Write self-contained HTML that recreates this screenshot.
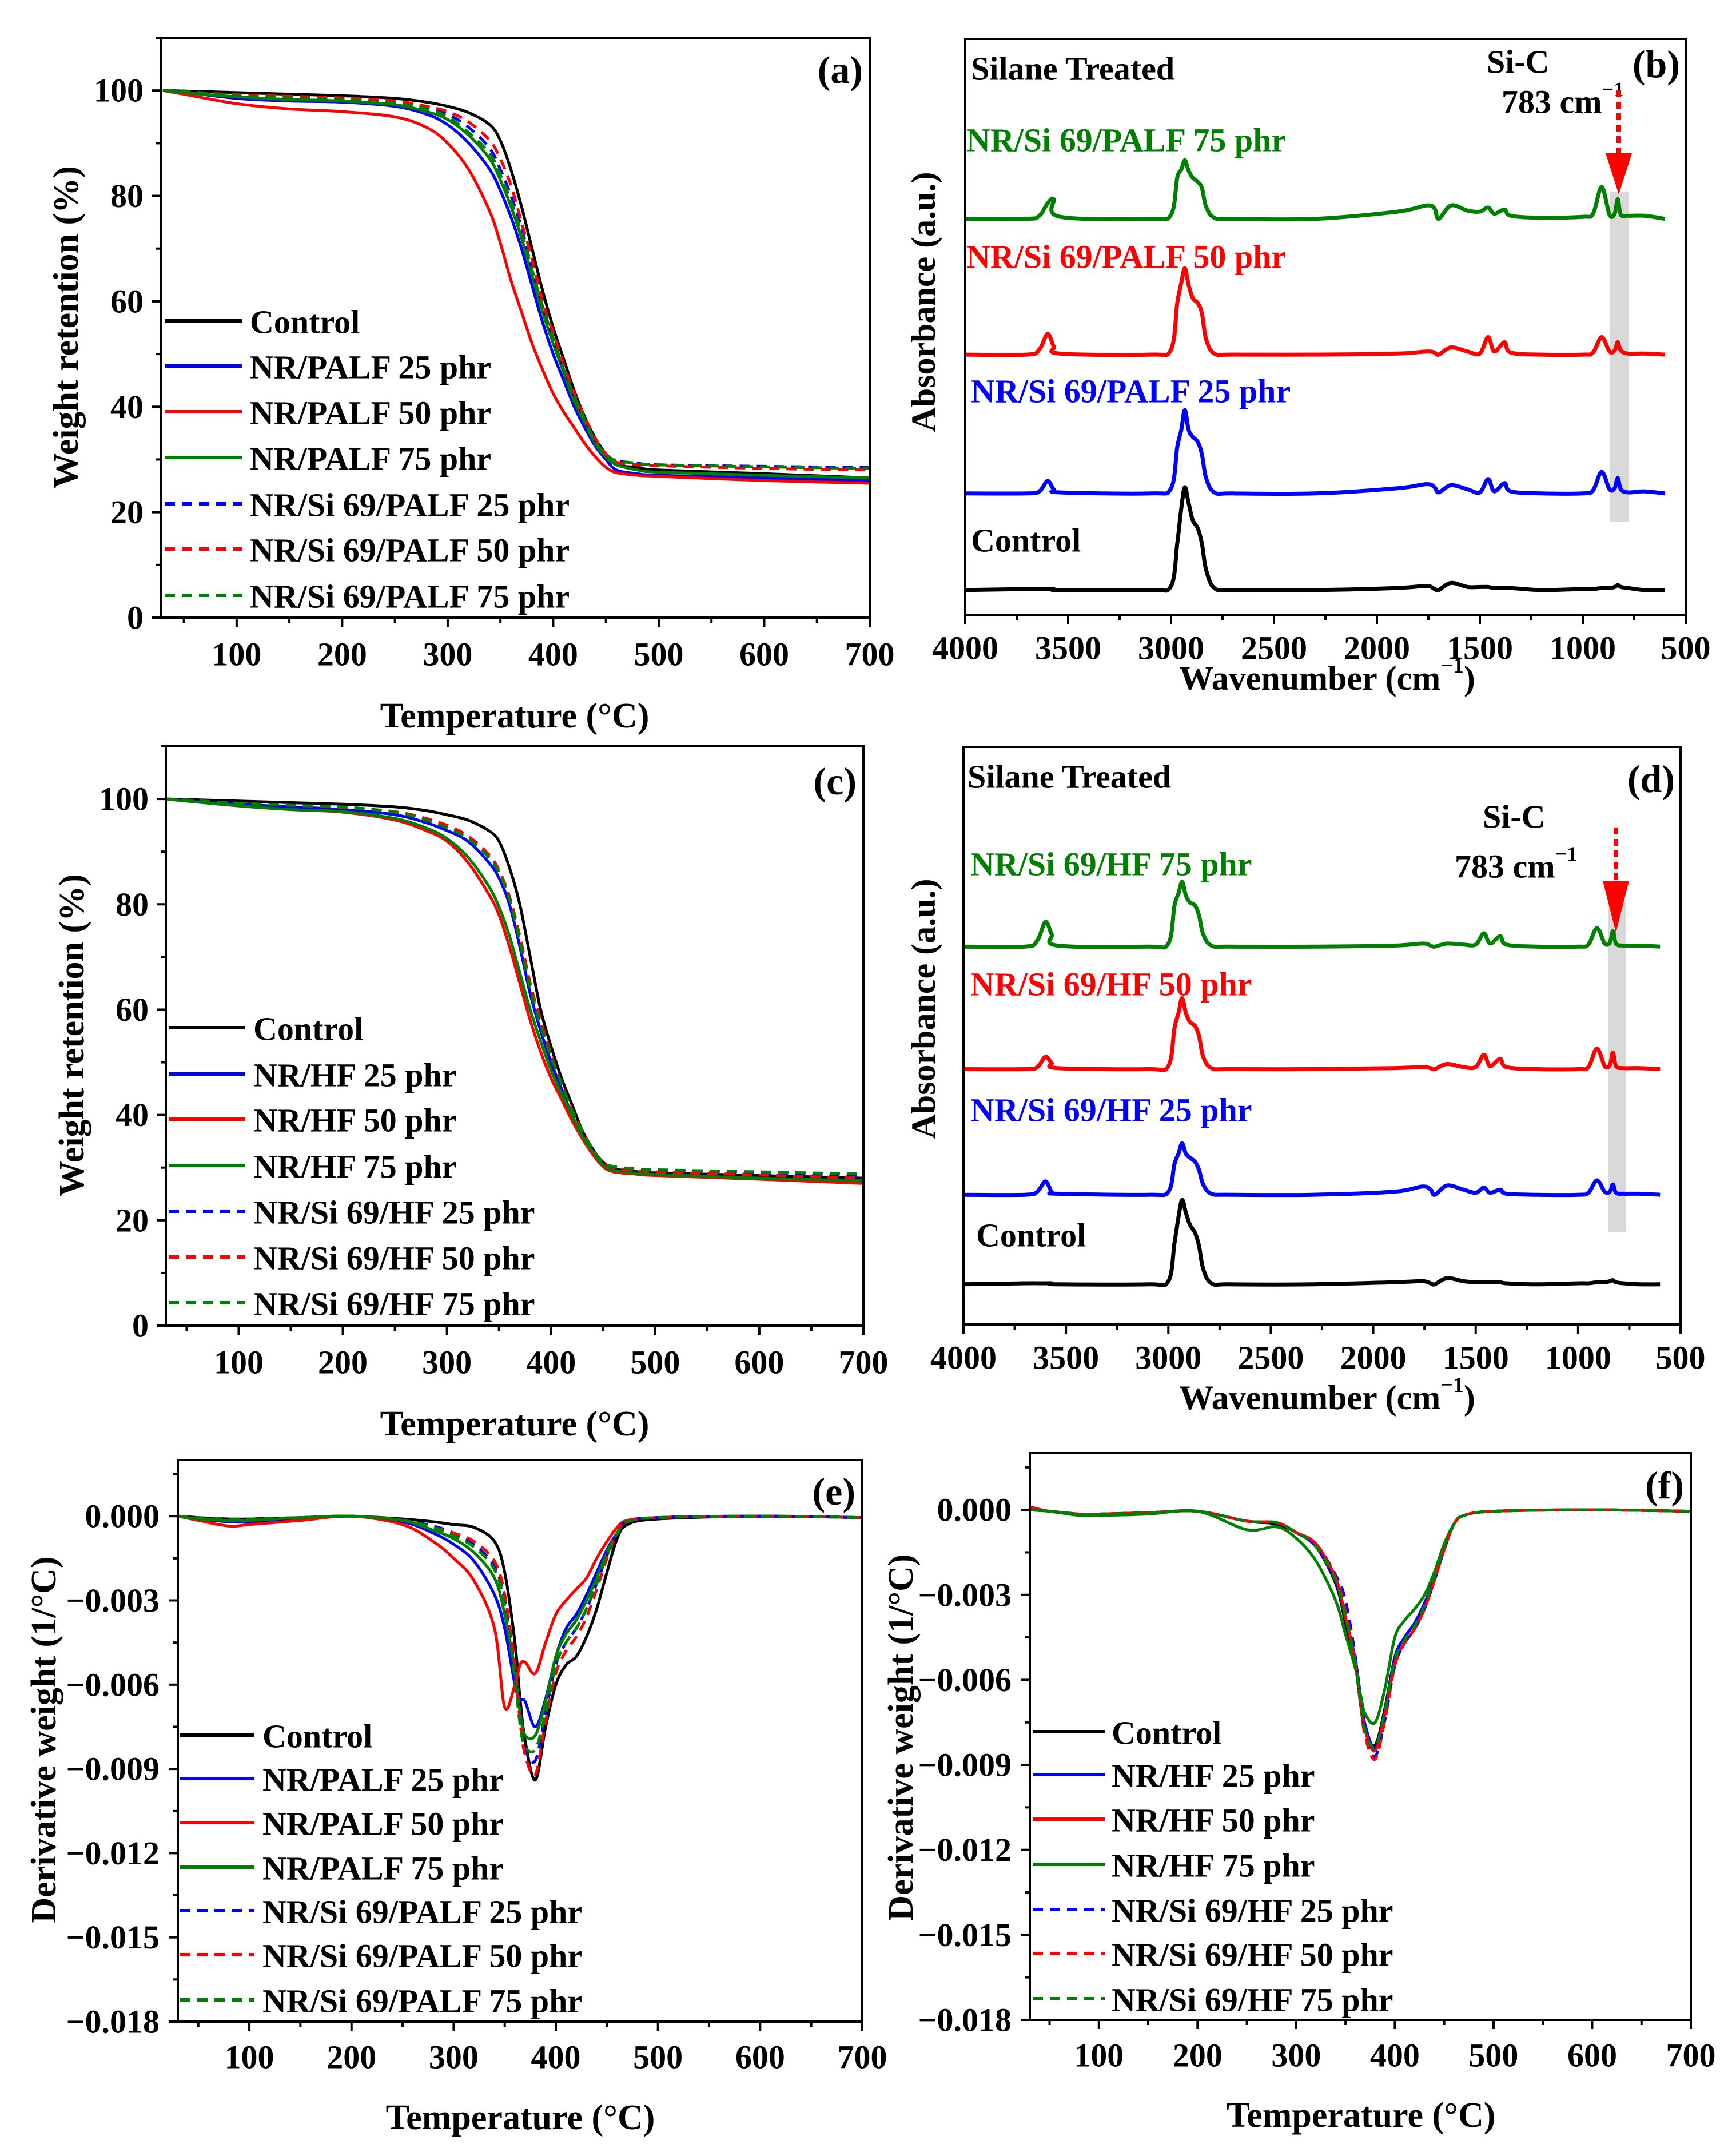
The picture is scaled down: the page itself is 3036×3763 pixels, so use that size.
<!DOCTYPE html>
<html><head><meta charset="utf-8"><title>TGA / FTIR / DTG figure</title>
<style>
html,body{margin:0;padding:0;background:#fff;}
svg{display:block;font-family:"Liberation Serif",serif;font-weight:bold;}
</style></head>
<body>
<svg id="fig" xmlns="http://www.w3.org/2000/svg" width="3036" height="3763" viewBox="0 0 3036 3763">
<rect x="0" y="0" width="3036" height="3763" fill="#fff"/>
</svg>
<script>
// ---------- DATA ----------
const tgaTemps = [30,50,100,150,200,250,280,300,320,340,350,360,370,380,390,400,410,420,430,440,450,460,480,500,600,700];
const tgaLabelsA = ["Control","NR/PALF 25 phr","NR/PALF 50 phr","NR/PALF 75 phr","NR/Si 69/PALF 25 phr","NR/Si 69/PALF 50 phr","NR/Si 69/PALF 75 phr"];
const tgaA_control = [100,99.9,99.6,99.3,99,98.5,97.8,97,95.8,93.5,90.5,85,78,70,62,55,49,43,38,34,31,29,28.5,28,27.3,26.5];
const tgaA_p25 = [100,99.7,98.5,98,97.8,97,95.5,93.5,90,85,81,76,70,63,56,50,45,40,36,32.5,30,28,27.3,27,26.5,26];
const tgaA_p50 = [100,99.3,97.5,96.5,96,95,93,90,85,77,71,64,58,52,47,42.5,39,36,33,30.5,28.5,27.5,27,26.8,26,25.5];
const tgaA_p75 = [100,99.6,98.8,98.3,98,97.3,96,94.5,91.5,87,83,78,72,65,58,52,46.5,41,37,33,30.5,29,28,27.6,27,26.5];
const tgaA_s25 = [100,99.8,99.2,98.8,98.5,97.8,96.8,95.5,93,89,85,80,74,66,59,53,47,42,37.5,33.5,31,29.8,29.3,29,28.7,28.5];
const tgaA_s50 = [100,99.8,99.2,98.9,98.6,98,97,96,94,90.5,87,82,75,68,60,54,48,42.5,38,34,31,29.5,29,28.8,28.3,28];
const tgaA_s75 = [100,99.8,99,98.6,98.3,97.5,96.5,95,92,88,84,79,73,66,59,53,47,42,37.5,33.5,31,29.8,29.3,29,28.6,28.3];

const tgaLabelsC = ["Control","NR/HF 25 phr","NR/HF 50 phr","NR/HF 75 phr","NR/Si 69/HF 25 phr","NR/Si 69/HF 50 phr","NR/Si 69/HF 75 phr"];
const tgaC_control = [100,99.9,99.6,99.3,99,98.5,97.8,97,96,94,92,87,80,70,60,53,47,42,37,33.5,31,29.8,29.3,29,28.5,28];
const tgaC_h25 = [100,99.7,99,98.5,98,97,95.5,94,92,88,85,80,72,63,56,50,45,40,36,33,30.5,29.5,29,28.6,28,27.5];
const tgaC_h50 = [100,99.6,98.7,98,97.5,96,94,92,88,82,78,72,65,58,52,47,43,39,35.5,32.5,30.2,29.2,28.8,28.5,27.8,27];
const tgaC_h75 = [100,99.6,98.7,98,97.6,96.3,94.5,92.5,89,83.5,79.5,74,67,60,54,48.5,44,40,36,33,30.5,29.5,29,28.7,28,27.5];
const tgaC_s25 = [100,99.8,99.2,98.8,98.4,97.5,96,94.5,92.5,89,86,81,73,64,57,51,46,41,37,33.5,31,30,29.5,29.3,28.8,28.3];
const tgaC_s50 = [100,99.8,99.2,98.8,98.4,97.6,96.3,95,93,89.5,86.5,81.5,74,65,58,51.5,46,41,37,33.5,31,30,29.5,29.2,28.6,28];
const tgaC_s75 = [100,99.8,99.2,98.8,98.5,97.5,96,94.5,92.5,89,86,81,73,64,57,51,46,41,37,33.5,31,30.2,29.8,29.6,29.2,28.8];

const dtgTemps = [30,50,80,100,150,200,250,280,300,320,340,350,360,365,370,380,390,400,410,420,430,440,450,460,470,500,600,700];
// values in units of 0.001 1/°C
const dtgE_control = [0,-0.05,-0.1,-0.1,-0.05,0,-0.1,-0.2,-0.3,-0.4,-0.9,-2,-4.5,-6.5,-8,-9.4,-7.5,-6,-5.3,-5,-4.3,-3.3,-2,-0.8,-0.3,-0.1,0,-0.05];
const dtgE_p25 = [0,-0.1,-0.2,-0.2,-0.1,0,-0.2,-0.6,-1,-1.6,-2.8,-4,-6,-6.5,-6.6,-7.5,-6.5,-5,-4,-3.5,-2.8,-2,-1.2,-0.6,-0.2,-0.05,0,-0.05];
const dtgE_p50 = [0,-0.15,-0.35,-0.3,-0.15,0,-0.3,-0.9,-1.5,-2.3,-4,-6.8,-6,-5.3,-5.2,-5.6,-4.5,-3.5,-3,-2.6,-2.2,-1.5,-0.9,-0.4,-0.15,-0.05,0,-0.05];
const dtgE_p75 = [0,-0.1,-0.15,-0.15,-0.05,0,-0.15,-0.5,-0.8,-1.3,-2.2,-3.5,-5.5,-7,-7.8,-7.8,-6.6,-5,-4.2,-3.7,-3,-2.2,-1.3,-0.6,-0.2,-0.05,0,-0.05];
const dtgE_s25 = [0,-0.05,-0.1,-0.1,-0.05,0,-0.15,-0.35,-0.6,-1,-1.8,-3,-5.5,-7.2,-8.3,-8.7,-7,-5.3,-4.5,-4,-3.3,-2.4,-1.4,-0.6,-0.2,-0.05,0,-0.05];
const dtgE_s50 = [0,-0.05,-0.1,-0.1,-0.05,0,-0.15,-0.4,-0.6,-0.9,-1.6,-2.8,-5.3,-7.3,-8.5,-9.2,-7.3,-5.6,-4.8,-4.3,-3.6,-2.6,-1.5,-0.6,-0.2,-0.05,0,-0.05];
const dtgE_s75 = [0,-0.05,-0.1,-0.1,-0.05,0,-0.15,-0.4,-0.7,-1.1,-1.9,-3.2,-5.8,-7.4,-8.2,-8.3,-7,-5.3,-4.5,-4,-3.3,-2.4,-1.4,-0.6,-0.2,-0.05,0,-0.05];

const dtgF_control = [0,-0.05,-0.15,-0.15,-0.1,-0.05,-0.4,-0.5,-0.8,-1.3,-2.6,-4,-5.5,-6.8,-7.8,-8.3,-7,-5.2,-4.5,-4,-3.3,-2.4,-1.3,-0.5,-0.2,-0.05,0,-0.05];
const dtgF_h25 = [0.1,-0.05,-0.15,-0.15,-0.1,-0.05,-0.4,-0.45,-0.8,-1.3,-2.5,-3.8,-5.3,-6.5,-7.6,-8.4,-7.1,-5.2,-4.5,-4,-3.3,-2.4,-1.3,-0.5,-0.2,-0.05,0,-0.05];
const dtgF_h50 = [0.1,-0.05,-0.15,-0.15,-0.1,-0.05,-0.4,-0.45,-0.8,-1.2,-2.4,-3.8,-5.4,-6.7,-7.8,-8.5,-7.2,-5.4,-4.7,-4.2,-3.5,-2.5,-1.4,-0.5,-0.2,-0.05,0,-0.05];
const dtgF_h75 = [0,-0.05,-0.2,-0.2,-0.15,-0.05,-0.7,-0.6,-1,-1.8,-3.2,-4.4,-5.6,-6.5,-7.2,-7.5,-6.3,-4.5,-3.9,-3.5,-3,-2.2,-1.2,-0.5,-0.2,-0.05,0,-0.05];
const dtgF_s25 = [0,-0.05,-0.15,-0.15,-0.1,-0.05,-0.4,-0.45,-0.8,-1.2,-2.3,-3.2,-5.2,-6.7,-7.9,-8.7,-7.4,-5.5,-4.7,-4.2,-3.5,-2.5,-1.4,-0.5,-0.2,-0.05,0,-0.05];
const dtgF_s50 = [0,-0.05,-0.15,-0.15,-0.1,-0.05,-0.4,-0.45,-0.8,-1.2,-2.4,-3.6,-5.4,-6.8,-8,-8.8,-7.4,-5.5,-4.7,-4.2,-3.5,-2.5,-1.4,-0.5,-0.2,-0.05,0,-0.05];
const dtgF_s75 = [0,-0.05,-0.15,-0.15,-0.1,-0.05,-0.4,-0.45,-0.8,-1.3,-2.5,-3.8,-5.4,-6.7,-7.8,-8.4,-7.1,-5.3,-4.6,-4.1,-3.4,-2.4,-1.3,-0.5,-0.2,-0.05,0,-0.05];

const tgaYTicks = [0,20,40,60,80,100];
const tempTicks = [100,200,300,400,500,600,700];
const dtgYTicks = [0,-3,-6,-9,-12,-15,-18];
const dtgYTickLabels = ["0.000","\u22120.003","\u22120.006","\u22120.009","\u22120.012","\u22120.015","\u22120.018"];
const wnTicks = [4000,3500,3000,2500,2000,1500,1000,500];

const wn = [4000,3700,3640,3600,3570,3540,3100,3000,2970,2950,2933,2915,2895,2870,2850,2830,2790,2700,2300,1900,1760,1720,1700,1640,1560,1500,1460,1430,1380,1350,1200,1000,950,908,870,845,830,815,780,700,600];
const ftB_control = [0,0.01,0.01,0.01,0.01,0,0,0.04,0.45,0.8,1.0,0.85,0.68,0.6,0.45,0.2,0.02,0,0,0.02,0.04,0.01,0,0.07,0.03,0.03,0.03,0.02,0.02,0.02,0,0.01,0.01,0.02,0.02,0.03,0.05,0.03,0.02,0,0];
const ftB_s25 = [0,0,0.02,0.12,0.04,0.01,0,0.05,0.45,0.62,0.81,0.62,0.55,0.5,0.38,0.15,0.01,0,0,0.05,0.09,0.06,0.01,0.08,0.04,0.01,0.14,0.02,0.1,0.02,0,0,0.03,0.21,0.04,0.05,0.15,0.04,0.01,0.02,0];
const ftB_s50 = [0,0,0.05,0.2,0.08,0.01,0,0.05,0.5,0.7,0.84,0.68,0.55,0.5,0.4,0.15,0.01,0,0,0.01,0.03,0.02,0,0.07,0.03,0.01,0.17,0.03,0.12,0.02,0,0,0.02,0.17,0.03,0.04,0.12,0.04,0.01,0.01,0];
const ftB_s75 = [0,0,0.03,0.15,0.19,0.02,0,0.04,0.4,0.48,0.57,0.47,0.4,0.36,0.3,0.12,0.01,0,0,0.07,0.13,0.1,0,0.13,0.08,0.07,0.11,0.05,0.09,0.03,0.01,0.02,0.05,0.31,0.04,0.05,0.19,0.04,0.03,0.03,0];
const ftB_offsets = [0.24,1.18,2.53,3.85];

const ftD_control = [0,0.01,0.01,0.01,0.01,0,0,0.03,0.4,0.66,0.82,0.7,0.58,0.5,0.37,0.15,0.01,0,0,0.02,0.03,0.01,0,0.06,0.03,0.02,0.02,0.02,0.02,0.01,0,0.01,0.01,0.02,0.02,0.03,0.04,0.02,0.01,0,0];
const ftD_s25 = [0,0,0.03,0.13,0.03,0.01,0,0.03,0.3,0.4,0.5,0.4,0.36,0.32,0.24,0.1,0.01,0,0,0.03,0.08,0.05,0,0.09,0.05,0.02,0.07,0.02,0.05,0.01,0,0,0.02,0.14,0.03,0.03,0.1,0.02,0.01,0.01,0];
const ftD_s50 = [0,0,0.02,0.12,0.06,0.01,0,0.03,0.4,0.55,0.69,0.55,0.46,0.42,0.32,0.12,0.01,0,0,0.01,0.02,0.01,0,0.05,0.02,0.02,0.14,0.03,0.1,0.02,0,0,0.02,0.2,0.03,0.04,0.16,0.03,0.01,0.01,0];
const ftD_s75 = [0,0,0.06,0.24,0.12,0.01,0,0.03,0.4,0.52,0.63,0.5,0.43,0.4,0.3,0.12,0.01,0,0,0.01,0.03,0.01,0,0.03,0.02,0.02,0.13,0.03,0.1,0.02,0,0,0.02,0.18,0.03,0.04,0.15,0.03,0.01,0.01,0];
const ftD_offsets = [0.39,1.26,2.48,3.67];

// ---------- RENDER ----------
const NS = "http://www.w3.org/2000/svg";
const svg = document.getElementById("fig");
const BLACK = "#000", BLUE = "#0000ff", RED = "#ff0000", GREEN = "#008000";
const COLORS = [BLACK, BLUE, RED, GREEN, BLUE, RED, GREEN];

function mk(tag, parent) { const e = document.createElementNS(NS, tag); (parent || svg).appendChild(e); return e; }
function setA(e, o) { for (const k in o) e.setAttribute(k, o[k]); return e; }
function lin(d0, d1, r0, r1) { return v => r0 + (v - d0) * (r1 - r0) / (d1 - d0); }

function smoothPath(pts) {
  let d = "M" + pts[0][0].toFixed(1) + "," + pts[0][1].toFixed(1);
  for (let i = 0; i < pts.length - 1; i++) {
    const p0 = pts[i - 1] || pts[i], p1 = pts[i], p2 = pts[i + 1], p3 = pts[i + 2] || p2;
    const c1x = p1[0] + (p2[0] - p0[0]) / 6, c1y = p1[1] + (p2[1] - p0[1]) / 6;
    const c2x = p2[0] - (p3[0] - p1[0]) / 6, c2y = p2[1] - (p3[1] - p1[1]) / 6;
    d += "C" + c1x.toFixed(1) + "," + c1y.toFixed(1) + " " + c2x.toFixed(1) + "," + c2y.toFixed(1) + " " + p2[0].toFixed(1) + "," + p2[1].toFixed(1);
  }
  return d;
}
function linePath(pts) { return pts.map((p, i) => (i ? "L" : "M") + p[0].toFixed(1) + "," + p[1].toFixed(1)).join(""); }

function txt(g, x, y, s, size, anchor, fill) {
  const t = mk("text", g);
  setA(t, { x: x, y: y, "font-size": size, "text-anchor": anchor || "start", "dominant-baseline": "central", fill: fill || BLACK });
  t.textContent = s;
  return t;
}

function frame(g, x0, x1, y0, y1) {
  const r = mk("rect", g);
  setA(r, { x: x0, y: y0, width: x1 - x0, height: y1 - y0, fill: "none", stroke: BLACK, "stroke-width": 4 });
  
  
}

function xTicks(g, sx, ticks, minorStep, dmin, dmax, yb, labelY, size) {
  const lo = Math.min(dmin, dmax), hi = Math.max(dmin, dmax);
  const start = Math.ceil(lo / minorStep) * minorStep;
  for (let v = start; v <= hi + 1e-9; v += minorStep) {
    const major = ticks.indexOf(Math.round(v)) >= 0;
    const l = mk("line", g);
    setA(l, { x1: sx(v), x2: sx(v), y1: yb, y2: yb + (major ? 16 : 9), stroke: BLACK, "stroke-width": 4 });
    
    
  }
  ticks.forEach(v => {
    const t = txt(g, sx(v), labelY, String(v), size, "middle");
    
    
  });
}

function yTicks(g, sy, ticks, labels, minorStep, lo, hi, xl, labelX, size) {
  const start = Math.ceil(lo / minorStep - 1e-9) * minorStep;
  for (let v = start; v <= hi + 1e-9; v += minorStep) {
    const major = ticks.some(t => Math.abs(t - v) < 1e-6);
    const l = mk("line", g);
    setA(l, { x1: xl, x2: xl - (major ? 16 : 9), y1: sy(v), y2: sy(v), stroke: BLACK, "stroke-width": 4 });
    
    
  }
  ticks.forEach((v, i) => {
    const t = txt(g, labelX, sy(v), labels[i], size, "end");
    
    
  });
}

function series(g, sx, sy, xs, ys, color, dashed, smooth, width) {
  const pts = xs.map((x, i) => [sx(x), sy(ys[i])]);
  const p = mk("path", g);
  setA(p, { d: smooth ? smoothPath(pts) : linePath(pts), fill: "none", stroke: color, "stroke-width": width || 5, "stroke-linejoin": "round" });
  if (dashed) p.setAttribute("stroke-dasharray", "18 12");
  return p;
}

function legend(g, labels, x0, x1, tx, ys, size) {
  labels.forEach((lab, i) => {
    const l = mk("line", g);
    setA(l, { x1: x0, x2: x1, y1: ys[i], y2: ys[i], stroke: COLORS[i], "stroke-width": 6 });
    if (i >= 4) l.setAttribute("stroke-dasharray", "18 12");
    
    
    const t = txt(g, tx, ys[i] + 2, lab, size, "start");
    
    
  });
}

function rotTitle(g, x, y, s, size) {
  const t = mk("text", g);
  setA(t, { x: 0, y: 0, "font-size": size, "text-anchor": "middle", "dominant-baseline": "central", transform: "translate(" + x + "," + y + ") rotate(-90)" });
  t.textContent = s;
  return t;
}

function tgaPanel(name, geo, data, labels, legY, legX, panelLabel) {
  const g = mk("g");  
  const sx = lin(geo.xmin, 700, geo.x0, geo.x1), sy = lin(0, 110, geo.y1, geo.y0);
  data.forEach((d, i) => {
    const p = series(g, sx, sy, tgaTemps, d, COLORS[i], i >= 4, true, 5);
    
    
  });
  frame(g, geo.x0, geo.x1, geo.y0, geo.y1);
  xTicks(g, sx, tempTicks, 50, geo.xmin, 700, geo.y1, geo.y1 + 64, 58);
  yTicks(g, sy, tgaYTicks, tgaYTicks.map(String), 10, 0, 110, geo.x0, geo.x0 - 30, 58);
  legend(g, labels, legX[0], legX[1], legX[2], legY, 58);
  const yt = rotTitle(g, geo.ytx, geo.yty, "Weight retention (%)", 62);
   
  const xt = txt(g, geo.xtx, geo.xty, "Temperature (\u00B0C)", 62, "middle");
   
  const pl = txt(g, geo.x1 - 12, geo.ply, panelLabel, 68, "end");
   
}

function dtgPanel(name, geo, data, labels, legY, legX, panelLabel) {
  const g = mk("g");  
  const sx = lin(geo.xmin, 700, geo.x0, geo.x1), sy = lin(-18, 2, geo.y1, geo.y0);
  data.forEach((d, i) => {
    const p = series(g, sx, sy, dtgTemps, d, COLORS[i], i >= 4, true, 5);
    
    
  });
  frame(g, geo.x0, geo.x1, geo.y0, geo.y1);
  xTicks(g, sx, tempTicks, 50, geo.xmin, 700, geo.y1, geo.y1 + 62, 58);
  yTicks(g, sy, dtgYTicks, dtgYTickLabels, 1.5, -18, 2, geo.x0, geo.x0 - 32, 58);
  legend(g, labels, legX[0], legX[1], legX[2], legY, 58);
  const yt = rotTitle(g, geo.ytx, geo.yty, "Derivative weight (1/\u00B0C)", 62);
   
  const xt = txt(g, geo.xtx, geo.xty, "Temperature (\u00B0C)", 62, "middle");
   
  const pl = txt(g, geo.x1 - 12, geo.ply, panelLabel, 68, "end");
   
}

function ftirPanel(name, geo, data, offsets, names, labelPos, panelLabel) {
  const g = mk("g");  
  const sx = lin(4000, 500, geo.x0, geo.x1), sy = lin(0, geo.ymax, geo.y1, geo.y0);
  const band = mk("rect", g);
  setA(band, { x: geo.bandX0, y: geo.bandY0, width: geo.bandX1 - geo.bandX0, height: geo.bandY1 - geo.bandY0, fill: "#d9d9d9" });
  
  
  const cols = [BLACK, BLUE, RED, GREEN];
  data.forEach((d, i) => {
    const shifted = d.map(v => v + offsets[i]);
    const p = series(g, sx, sy, wn, shifted, cols[i], false, true, 7);
    
    
    const t = txt(g, labelPos[i][0], labelPos[i][1], names[i], 58, "start", cols[i]);
    
    
  });
  frame(g, geo.x0, geo.x1, geo.y0, geo.y1);
  xTicks(g, sx, wnTicks, 250, 4000, 500, geo.y1, geo.y1 + 58, 58);
  const yt = rotTitle(g, geo.ytx, geo.yty, "Absorbance (a.u.)", 60);
   
  const xt = mk("text", g);
  setA(xt, { x: geo.xtx, y: geo.xty, "font-size": 60, "text-anchor": "middle", "dominant-baseline": "central" });
  xt.innerHTML = 'Wavenumber (cm<tspan font-size="38" dy="-22">\u22121</tspan><tspan dy="22">)</tspan>';
   
  const st = txt(g, geo.stx, geo.sty, "Silane Treated", 58, "start");
   
  const sic = txt(g, geo.sicx, geo.sicy, "Si-C", 58, "start");
   
  const wv = mk("text", g);
  setA(wv, { x: geo.wvx, y: geo.wvy, "font-size": 58, "dominant-baseline": "central" });
  wv.innerHTML = '783 cm<tspan font-size="36" dy="-22">\u22121</tspan>';
   
  const al = mk("line", g);
  setA(al, { x1: geo.ax, x2: geo.ax, y1: geo.ay0, y2: geo.ahy, stroke: RED, "stroke-width": 8, "stroke-dasharray": "12 8" });
   
  const ah = mk("polygon", g);
  setA(ah, { points: (geo.ax - 23) + "," + geo.ahy + " " + (geo.ax + 23) + "," + geo.ahy + " " + geo.ax + "," + geo.ay1, fill: RED });
   
  const pl = txt(g, geo.x1 - 10, geo.ply, panelLabel, 68, "end");
   
}

tgaPanel("panel-a-tga-palf",
  { x0: 281, x1: 1521, y0: 66, y1: 1080, xmin: 28, ytx: 116, yty: 572, xtx: 900, xty: 1252, ply: 122 },
  [tgaA_control, tgaA_p25, tgaA_p50, tgaA_p75, tgaA_s25, tgaA_s50, tgaA_s75], tgaLabelsA,
  [561, 640, 720, 800, 881, 960, 1041], [288, 423, 437], "(a)");

tgaPanel("panel-c-tga-hf",
  { x0: 290, x1: 1510, y0: 1305, y1: 2318, xmin: 30, ytx: 126, yty: 1810, xtx: 900, xty: 2490, ply: 1366 },
  [tgaC_control, tgaC_h25, tgaC_h50, tgaC_h75, tgaC_s25, tgaC_s50, tgaC_s75], tgaLabelsC,
  [1797, 1878, 1957, 2038, 2118, 2198, 2278], [295, 429, 443], "(c)");

dtgPanel("panel-e-dtg-palf",
  { x0: 311, x1: 1508, y0: 2553, y1: 3535, xmin: 30, ytx: 77, yty: 3042, xtx: 910, xty: 3703, ply: 2608 },
  [dtgE_control, dtgE_p25, dtgE_p50, dtgE_p75, dtgE_s25, dtgE_s50, dtgE_s75], tgaLabelsA,
  [3034, 3110, 3187, 3265, 3341, 3418, 3497], [315, 445, 459], "(e)");

dtgPanel("panel-f-dtg-hf",
  { x0: 1801, x1: 2957, y0: 2541, y1: 3532, xmin: 30, ytx: 1576, yty: 3038, xtx: 2380, xty: 3699, ply: 2597 },
  [dtgF_control, dtgF_h25, dtgF_h50, dtgF_h75, dtgF_s25, dtgF_s50, dtgF_s75], tgaLabelsC,
  [3028, 3103, 3181, 3260, 3339, 3416, 3495], [1806, 1932, 1944], "(f)");

ftirPanel("panel-b-ftir-palf",
  { x0: 1688, x1: 2948, y0: 68, y1: 1075, ymax: 5.6, ytx: 1615, yty: 528, xtx: 2321, xty: 1186,
    bandX0: 2815, bandX1: 2849, bandY0: 336, bandY1: 912,
    stx: 1698, sty: 120, sicx: 2600, sicy: 108, wvx: 2626, wvy: 178,
    ax: 2831, ay0: 158, ahy: 268, ay1: 340, ply: 112 },
  [ftB_control, ftB_s25, ftB_s50, ftB_s75], ftB_offsets,
  ["Control", "NR/Si 69/PALF 25 phr", "NR/Si 69/PALF 50 phr", "NR/Si 69/PALF 75 phr"],
  [[1698, 945], [1698, 684], [1690, 449], [1690, 245]], "(b)");

ftirPanel("panel-d-ftir-hf",
  { x0: 1685, x1: 2939, y0: 1306, y1: 2316, ymax: 5.61, ytx: 1615, yty: 1764, xtx: 2321, xty: 2444,
    bandX0: 2812, bandX1: 2844, bandY0: 1578, bandY1: 2155,
    stx: 1692, sty: 1358, sicx: 2593, sicy: 1428, wvx: 2544, wvy: 1515,
    ax: 2826, ay0: 1447, ahy: 1540, ay1: 1631, ply: 1362 },
  [ftD_control, ftD_s25, ftD_s50, ftD_s75], ftD_offsets,
  ["Control", "NR/Si 69/HF 25 phr", "NR/Si 69/HF 50 phr", "NR/Si 69/HF 75 phr"],
  [[1707, 2160], [1697, 1941], [1697, 1721], [1697, 1511]], "(d)");
</script>
</body></html>
